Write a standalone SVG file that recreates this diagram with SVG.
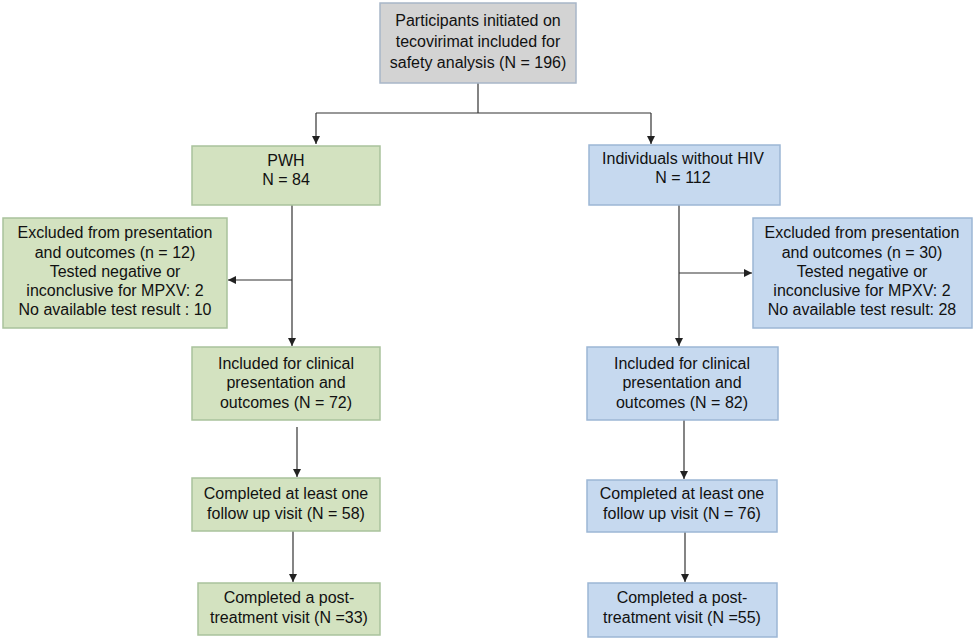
<svg xmlns="http://www.w3.org/2000/svg" width="975" height="640" viewBox="0 0 975 640">
<style>
text{font-family:"Liberation Sans",Arial,sans-serif;font-size:16px;fill:#111;text-anchor:middle}
.gray{fill:#d3d3d3;stroke:#a8b6c8;stroke-width:1.5}
.green{fill:#d3e2c0;stroke:#a9c29c;stroke-width:1.5}
.blue{fill:#c6d9ef;stroke:#9cb6d5;stroke-width:1.5}
.c{fill:none;stroke:#333;stroke-width:1.2}
</style>
<defs>
<marker id="arr" viewBox="0 0 10 10" refX="10" refY="5" markerWidth="8" markerHeight="8" markerUnits="userSpaceOnUse" orient="auto">
<path d="M0 0L10 5L0 10z" fill="#222"/>
</marker>
</defs>
<rect width="975" height="640" fill="#fff"/>
<g id="connectors">
<path class="c" d="M478 83V113M316 113H651"/>
<path class="c" d="M316 113V144" marker-end="url(#arr)"/>
<path class="c" d="M651 113V144" marker-end="url(#arr)"/>
<path class="c" d="M292 205V346" marker-end="url(#arr)"/>
<path class="c" d="M292 280H228" marker-end="url(#arr)"/>
<path class="c" d="M679 205V346" marker-end="url(#arr)"/>
<path class="c" d="M679 273H752" marker-end="url(#arr)"/>
<path class="c" d="M297 427V477" marker-end="url(#arr)"/>
<path class="c" d="M293 531V582" marker-end="url(#arr)"/>
<path class="c" d="M684 420V479" marker-end="url(#arr)"/>
<path class="c" d="M685 532V582" marker-end="url(#arr)"/>
</g>
<g id="n_top">
<rect class="gray" x="380" y="3" width="196" height="80"/>
<text x="478" y="26">Participants initiated on</text>
<text x="478" y="47">tecovirimat included for</text>
<text x="478" y="68">safety analysis (N = 196)</text>
</g>
<g id="n_pwh">
<rect class="green" x="192" y="146" width="188" height="59"/>
<text x="286" y="166">PWH</text>
<text x="286" y="185">N = 84</text>
</g>
<g id="n_nohiv">
<rect class="blue" x="589" y="145" width="191" height="60"/>
<text x="683" y="164">Individuals without HIV</text>
<text x="683" y="183">N = 112</text>
</g>
<g id="n_excl_left">
<rect class="green" x="3" y="218" width="224" height="110"/>
<text x="115" y="238">Excluded from presentation</text>
<text x="115" y="258">and outcomes (n = 12)</text>
<text x="115" y="277">Tested negative or</text>
<text x="115" y="296">inconclusive for MPXV: 2</text>
<text x="115" y="315">No available test result : 10</text>
</g>
<g id="n_excl_right">
<rect class="blue" x="753" y="218" width="219" height="110"/>
<text x="862" y="238">Excluded from presentation</text>
<text x="862" y="258">and outcomes (n = 30)</text>
<text x="862" y="277">Tested negative or</text>
<text x="862" y="296">inconclusive for MPXV: 2</text>
<text x="862" y="315">No available test result: 28</text>
</g>
<g id="n_incl_left">
<rect class="green" x="192" y="347" width="188" height="73"/>
<text x="286" y="369">Included for clinical</text>
<text x="286" y="388">presentation and</text>
<text x="286" y="408">outcomes (N = 72)</text>
</g>
<g id="n_incl_right">
<rect class="blue" x="587" y="347" width="191" height="73"/>
<text x="682" y="369">Included for clinical</text>
<text x="682" y="388">presentation and</text>
<text x="682" y="408">outcomes (N = 82)</text>
</g>
<g id="n_fu_left">
<rect class="green" x="192" y="478" width="188" height="53"/>
<text x="286" y="499">Completed at least one</text>
<text x="286" y="519">follow up visit (N = 58)</text>
</g>
<g id="n_fu_right">
<rect class="blue" x="587" y="480" width="190" height="52"/>
<text x="682" y="499">Completed at least one</text>
<text x="682" y="519">follow up visit (N = 76)</text>
</g>
<g id="n_post_left">
<rect class="green" x="198" y="583" width="182" height="52"/>
<text x="289" y="603">Completed a post-</text>
<text x="289" y="623">treatment visit (N =33)</text>
</g>
<g id="n_post_right">
<rect class="blue" x="588" y="583" width="189" height="54"/>
<text x="682" y="603">Completed a post-</text>
<text x="682" y="623">treatment visit (N =55)</text>
</g>
</svg>
